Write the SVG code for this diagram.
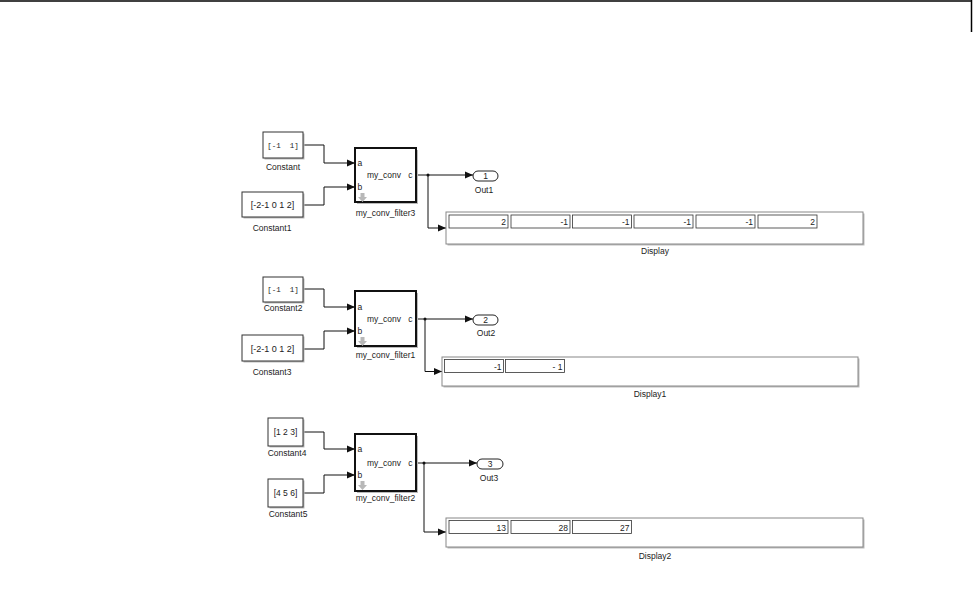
<svg xmlns="http://www.w3.org/2000/svg" width="973" height="615" viewBox="0 0 973 615">
<style>
text{font-family:"Liberation Sans",Arial,sans-serif;font-size:8.5px;fill:#222}
.c{text-anchor:middle}
.r{text-anchor:end}
.mono{font-family:"Liberation Mono","Courier New",monospace;font-size:7.5px;white-space:pre}
.blk{fill:#fff;stroke:#333;stroke-width:1}
.shadow{fill:#bbb}
.sub{fill:#fff;stroke:#111;stroke-width:2}
.disp{fill:#fff;stroke:#888;stroke-width:1}
.cell{fill:#fff;stroke:#333;stroke-width:0.8}
.out{fill:#fff;stroke:#222;stroke-width:1}
.wire{fill:none;stroke:#111;stroke-width:1}
.icon{fill:#b8b8b8}
</style>
<defs>
<marker id="arr" viewBox="0 0 8 8" refX="8" refY="4" markerWidth="8" markerHeight="8" markerUnits="userSpaceOnUse" orient="auto">
<path d="M0,0.5 L8,4 L0,7.5 Z" fill="#111"/>
</marker>
<path id="dn" d="M-2,0 H2 V4 H4.5 L0,9 L-4.5,4 H-2 Z"/>
</defs>

<g id="frame">
<line x1="0" y1="1" x2="972" y2="1" stroke="#000" stroke-width="1.5"/>
<line x1="971.5" y1="0" x2="971.5" y2="32" stroke="#000" stroke-width="1.5"/>
</g>

<g id="connectors">
<path class="wire" d="M303,145 H324 V163 H355" marker-end="url(#arr)"/>
<path class="wire" d="M303,205 H324 V187 H355" marker-end="url(#arr)"/>
<path class="wire" d="M416,175 H473" marker-end="url(#arr)"/>
<path class="wire" d="M428,175 V228 H446" marker-end="url(#arr)"/>
<circle cx="428" cy="175" r="1.5" fill="#111"/>

<path class="wire" d="M303,289 H324 V307 H355" marker-end="url(#arr)"/>
<path class="wire" d="M303,349 H324 V331 H355" marker-end="url(#arr)"/>
<path class="wire" d="M416,319 H473" marker-end="url(#arr)"/>
<path class="wire" d="M425,319 V371.5 H442" marker-end="url(#arr)"/>
<circle cx="425" cy="319" r="1.5" fill="#111"/>

<path class="wire" d="M303,432 H324 V449 H355" marker-end="url(#arr)"/>
<path class="wire" d="M303,493 H324 V475 H355" marker-end="url(#arr)"/>
<path class="wire" d="M416,463 H477" marker-end="url(#arr)"/>
<path class="wire" d="M424,463 V532 H446" marker-end="url(#arr)"/>
<circle cx="424" cy="463" r="1.5" fill="#111"/>
</g>

<!-- Section 1 -->
<g id="Constant">
<rect class="shadow" x="264.5" y="133.5" width="40" height="26"/>
<rect class="blk" x="263" y="132" width="40" height="26"/>
<text class="mono c" x="283" y="148">[-1  1]</text>
<text class="c" x="283" y="170">Constant</text>
</g>
<g id="Constant1">
<rect class="shadow" x="243.5" y="193.5" width="61" height="25"/>
<rect class="blk" x="242" y="192" width="61" height="25"/>
<text class="c" x="272.5" y="208" style="font-size:9px">[-2-1 0 1 2]</text>
<text class="c" x="272" y="231">Constant1</text>
</g>
<g id="my_conv_filter3">
<rect class="shadow" x="357" y="150" width="61" height="54"/>
<rect class="sub" x="355" y="148" width="61" height="54"/>
<text x="357.5" y="166">a</text>
<text x="357.5" y="190">b</text>
<text x="367" y="178">my_conv</text>
<text class="r" x="412.5" y="178">c</text>
<use href="#dn" x="362.5" y="193" class="icon"/>
<text class="c" x="385.5" y="216">my_conv_filter3</text>
</g>
<g id="Out1">
<rect class="out" x="473" y="171" width="25" height="10" rx="5"/>
<text class="c" x="485.5" y="179">1</text>
<text class="c" x="484" y="193">Out1</text>
</g>
<g id="Display">
<rect class="shadow" x="447.5" y="213.5" width="417" height="32"/>
<rect class="disp" x="446" y="212" width="417" height="32"/>
<rect class="cell" x="449" y="215" width="59" height="13"/>
<rect class="cell" x="511" y="215" width="59" height="13"/>
<rect class="cell" x="572.5" y="215" width="59" height="13"/>
<rect class="cell" x="634" y="215" width="59" height="13"/>
<rect class="cell" x="696" y="215" width="59" height="13"/>
<rect class="cell" x="758" y="215" width="59" height="13"/>
<text class="r" x="506" y="225">2</text>
<text class="r" x="568" y="225">-1</text>
<text class="r" x="629.5" y="225">-1</text>
<text class="r" x="691" y="225">-1</text>
<text class="r" x="753" y="225">-1</text>
<text class="r" x="815" y="225">2</text>
<text class="c" x="655" y="254">Display</text>
</g>

<!-- Section 2 -->
<g id="Constant2">
<rect class="shadow" x="264.5" y="278.5" width="40" height="25"/>
<rect class="blk" x="263" y="277" width="40" height="25"/>
<text class="mono c" x="283" y="292">[-1  1]</text>
<text class="c" x="283" y="311">Constant2</text>
</g>
<g id="Constant3">
<rect class="shadow" x="243.5" y="336.5" width="61" height="26"/>
<rect class="blk" x="242" y="335" width="61" height="26"/>
<text class="c" x="272.5" y="352" style="font-size:9px">[-2-1 0 1 2]</text>
<text class="c" x="272" y="375">Constant3</text>
</g>
<g id="my_conv_filter1">
<rect class="shadow" x="357" y="293" width="61" height="55"/>
<rect class="sub" x="355" y="291" width="61" height="55"/>
<text x="357.5" y="310">a</text>
<text x="357.5" y="334">b</text>
<text x="367" y="322">my_conv</text>
<text class="r" x="412.5" y="322">c</text>
<use href="#dn" x="362.5" y="337" class="icon"/>
<text class="c" x="385.5" y="358">my_conv_filter1</text>
</g>
<g id="Out2">
<rect class="out" x="473" y="315" width="25" height="10" rx="5"/>
<text class="c" x="485.5" y="323">2</text>
<text class="c" x="486" y="336">Out2</text>
</g>
<g id="Display1">
<rect class="shadow" x="443.5" y="358.5" width="416" height="29"/>
<rect class="disp" x="442" y="357" width="416" height="29"/>
<rect class="cell" x="444.5" y="359.5" width="59" height="13"/>
<rect class="cell" x="505.5" y="359.5" width="59" height="13"/>
<text class="r" x="501.5" y="369.5">-1</text>
<text class="r" x="562.5" y="369.5">- 1</text>
<text class="c" x="650" y="397">Display1</text>
</g>

<!-- Section 3 -->
<g id="Constant4">
<rect class="shadow" x="269.5" y="419.5" width="35" height="28"/>
<rect class="blk" x="268" y="418" width="35" height="28"/>
<text class="c" x="285.5" y="435">[1 2 3]</text>
<text class="c" x="287" y="456">Constant4</text>
</g>
<g id="Constant5">
<rect class="shadow" x="269.5" y="480.5" width="35" height="28"/>
<rect class="blk" x="268" y="479" width="35" height="28"/>
<text class="c" x="285.5" y="496">[4 5 6]</text>
<text class="c" x="288" y="517">Constant5</text>
</g>
<g id="my_conv_filter2">
<rect class="shadow" x="357" y="436" width="61" height="57"/>
<rect class="sub" x="355" y="434" width="61" height="57"/>
<text x="357.5" y="452">a</text>
<text x="357.5" y="478">b</text>
<text x="367" y="466">my_conv</text>
<text class="r" x="412.5" y="466">c</text>
<use href="#dn" x="362.5" y="481" class="icon"/>
<text class="c" x="385.5" y="501">my_conv_filter2</text>
</g>
<g id="Out3">
<rect class="out" x="477" y="459" width="26" height="10" rx="5"/>
<text class="c" x="490" y="467">3</text>
<text class="c" x="489" y="481">Out3</text>
</g>
<g id="Display2">
<rect class="shadow" x="447.5" y="519.5" width="417" height="29"/>
<rect class="disp" x="446" y="518" width="417" height="29"/>
<rect class="cell" x="449" y="520.5" width="59" height="13"/>
<rect class="cell" x="511" y="520.5" width="59" height="13"/>
<rect class="cell" x="572.5" y="520.5" width="59" height="13"/>
<text class="r" x="506" y="530.5">13</text>
<text class="r" x="568" y="530.5">28</text>
<text class="r" x="629.5" y="530.5">27</text>
<text class="c" x="655" y="559">Display2</text>
</g>
</svg>
